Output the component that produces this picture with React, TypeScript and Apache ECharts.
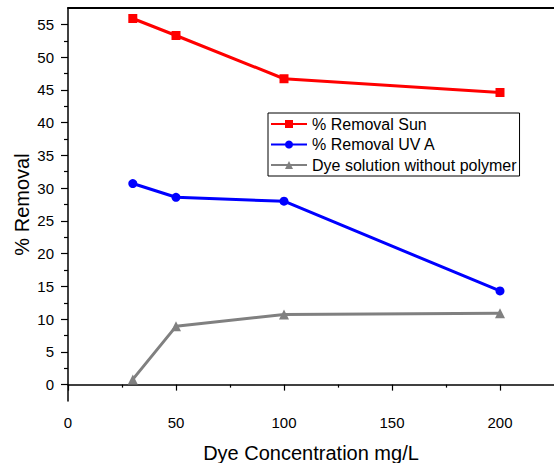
import React, { useEffect, useRef } from "react";
import * as echarts from "echarts";

const concentrations = [30, 50, 100, 200];
const sunRemoval = [55.9, 53.3, 46.7, 44.6];
const uvaRemoval = [30.7, 28.6, 28.0, 14.3];
const dyeNoPolymer = [0.8, 8.9, 10.7, 10.9];

const seriesNames = ["% Removal Sun", "% Removal UV A", "Dye solution without polymer"];
const xMajorTicks = [0, 50, 100, 150, 200];
const xMinorTicks = [25, 75, 125, 175];
const yMajorTicks = [0, 5, 10, 15, 20, 25, 30, 35, 40, 45, 50, 55];
const yMinorTicks = [2.5, 7.5, 12.5, 17.5, 22.5, 27.5, 32.5, 37.5, 42.5, 47.5, 52.5];

const FONT = "'Liberation Sans', Arial, sans-serif";

export default function App() {
  const ref = useRef<HTMLDivElement>(null);
  useEffect(() => {
    if (!ref.current) return;
    const chart = echarts.init(ref.current, undefined, { renderer: "svg" });
    const axisLine = { show: true, lineStyle: { color: "#000", width: 1.5 } };
    const pair = (ys: number[]) => concentrations.map((x, i) => [x, ys[i]]);
    chart.setOption({
      animation: false,
      backgroundColor: "#fff",
      textStyle: { fontFamily: FONT, color: "#000" },
      grid: { left: 68, top: 8, right: 0, bottom: 62, containLabel: false, outerBoundsMode: "none" },
      legend: {
        orient: "vertical",
        left: 268,
        top: 113,
        data: seriesNames,
        itemWidth: 36,
        itemHeight: 10,
        itemGap: 4.5,
        padding: [3, 3, 3, 2],
        borderColor: "#000",
        borderWidth: 1,
        backgroundColor: "#fff",
        textStyle: { fontSize: 16, color: "#000", fontFamily: FONT, lineHeight: 16 },
      },
      xAxis: [
        {
          type: "value",
          position: "bottom",
          offset: 0,
          min: 0,
          max: 225,
          axisLine,
          axisTick: { show: true, customValues: xMajorTicks, length: 6, lineStyle: { color: "#000", width: 1.2 } },
          axisLabel: { customValues: xMajorTicks, fontSize: 15, color: "#000", margin: 14, fontFamily: FONT },
          splitLine: { show: false },
          name: "Dye Concentration mg/L",
          nameLocation: "middle",
          nameGap: 42,
          nameMoveOverlap: false,
          nameTextStyle: { fontSize: 20, color: "#000", fontFamily: FONT, lineHeight: 20 },
        },
        {
          type: "value",
          position: "bottom",
          offset: 0,
          min: 0,
          max: 225,
          axisLine: { show: false },
          axisTick: { show: true, customValues: xMinorTicks, length: 3, lineStyle: { color: "#000", width: 1.2 } },
          axisLabel: { show: false },
          splitLine: { show: false },
        },
        {
          type: "value",
          position: "top",
          offset: 0,
          min: 0,
          max: 225,
          axisLine: { show: true, lineStyle: { color: "#000", width: 2 } },
          axisTick: { show: false },
          axisLabel: { show: false },
          splitLine: { show: false },
        },
      ],
      yAxis: [
        {
          type: "value",
          position: "left",
          offset: 0,
          min: -2.5,
          max: 57.5,
          axisLine,
          axisTick: { show: true, customValues: yMajorTicks, length: 7, lineStyle: { color: "#000", width: 1.2 } },
          axisLabel: { customValues: yMajorTicks, fontSize: 15, color: "#000", margin: 14, fontFamily: FONT },
          splitLine: { show: false },
          name: "% Removal",
          nameLocation: "middle",
          nameGap: 36,
          nameMoveOverlap: false,
          nameTextStyle: { fontSize: 20, color: "#000", fontFamily: FONT, lineHeight: 20 },
        },
        {
          type: "value",
          position: "left",
          offset: 0,
          min: -2.5,
          max: 57.5,
          axisLine: { show: false },
          axisTick: { show: true, customValues: yMinorTicks, length: 4, lineStyle: { color: "#000", width: 1.2 } },
          axisLabel: { show: false },
          splitLine: { show: false },
        },
      ],
      series: [
        {
          name: seriesNames[0],
          type: "line",
          data: pair(sunRemoval),
          symbol: "rect",
          symbolSize: 9,
          itemStyle: { color: "#ff0000" },
          lineStyle: { color: "#ff0000", width: 3 },
        },
        {
          name: seriesNames[1],
          type: "line",
          data: pair(uvaRemoval),
          symbol: "circle",
          symbolSize: 9,
          itemStyle: { color: "#0000ff" },
          lineStyle: { color: "#0000ff", width: 3 },
        },
        {
          name: seriesNames[2],
          type: "line",
          data: pair(dyeNoPolymer),
          symbol: "triangle",
          symbolSize: 10,
          itemStyle: { color: "#808080" },
          lineStyle: { color: "#808080", width: 3 },
        },
      ],
    });
    return () => chart.dispose();
  }, []);
  return (
    <div
      ref={ref}
      style={{ position: "absolute", left: 0, top: 0, width: 554, height: 463 }}
    />
  );
}
